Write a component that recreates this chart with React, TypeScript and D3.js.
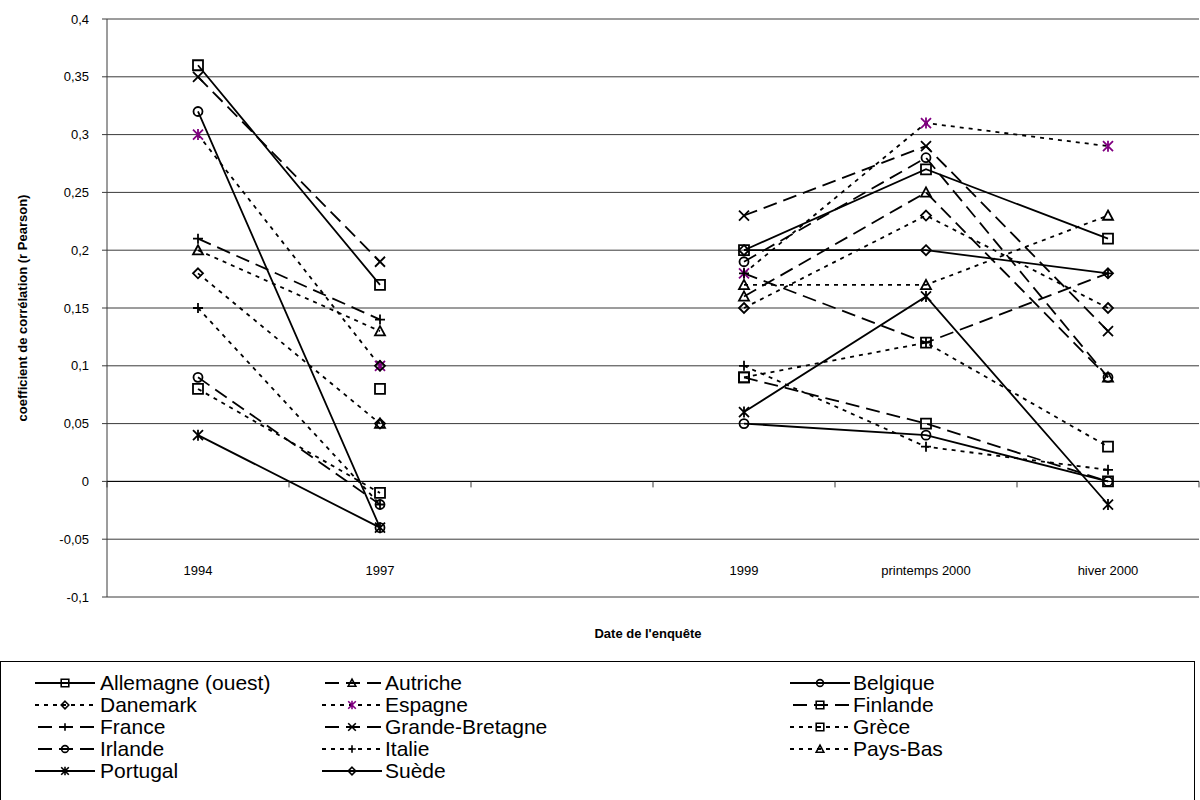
import React from "react";
import * as d3 from "d3";

const categories = ["1994", "1997", "", "1999", "printemps 2000", "hiver 2000"];

const countries = [
  "Allemagne (ouest)", "Autriche", "Belgique", "Danemark", "Espagne", "Finlande", "France",
  "Grande-Bretagne", "Grèce", "Irlande", "Italie", "Pays-Bas", "Portugal", "Suède",
];

const allemagne = [0.36, 0.17, null, 0.2, 0.27, 0.21];
const autriche = [null, 0.05, null, 0.16, 0.25, 0.09];
const belgique = [0.32, -0.04, null, 0.05, 0.04, 0.0];
const danemark = [0.18, 0.05, null, 0.15, 0.23, 0.15];
const espagne = [0.3, 0.1, null, 0.18, 0.31, 0.29];
const finlande = [null, 0.08, null, 0.09, 0.05, 0.0];
const france = [0.21, 0.14, null, 0.18, 0.12, 0.18];
const grandeBretagne = [0.35, 0.19, null, 0.23, 0.29, 0.13];
const grece = [0.08, -0.01, null, 0.09, 0.12, 0.03];
const irlande = [0.09, -0.02, null, 0.19, 0.28, 0.09];
const italie = [0.15, -0.02, null, 0.1, 0.03, 0.01];
const paysBas = [0.2, 0.13, null, 0.17, 0.17, 0.23];
const portugal = [0.04, -0.04, null, 0.06, 0.16, -0.02];
const suede = [null, 0.1, null, 0.2, 0.2, 0.18];

const seriesValues = [
  allemagne, autriche, belgique, danemark, espagne, finlande, france,
  grandeBretagne, grece, irlande, italie, paysBas, portugal, suede,
];

const lineStyles = [
  "solid", "dashed", "solid", "dotted", "dotted", "dashed", "dashed",
  "dashed", "dotted", "dashed", "dotted", "dotted", "solid", "solid",
];
const markerShapes = [
  "square", "triangle", "circle", "diamond", "star", "square", "plus",
  "x", "square", "circle", "plus", "triangle", "star", "diamond",
];
const seriesColors = [
  "#000", "#000", "#000", "#000", "#800080", "#000", "#000",
  "#000", "#000", "#000", "#000", "#000", "#000", "#000",
];

const yTicks = [-0.1, -0.05, 0, 0.05, 0.1, 0.15, 0.2, 0.25, 0.3, 0.35, 0.4];
const yTickLabels = ["-0,1", "-0,05", "0", "0,05", "0,1", "0,15", "0,2", "0,25", "0,3", "0,35", "0,4"];

const FONT = "'Liberation Sans', Arial, sans-serif";
const W = 1200;
const H = 800;
const plot = { left: 107, right: 1199, top: 19, bottom: 597 };

const dashFor = (s: string) => (s === "dashed" ? "14,7" : s === "dotted" ? "4,5" : undefined);

function markerPath(shape: string, h: number): string {
  switch (shape) {
    case "square":
      return `M${-h},${-h}H${h}V${h}H${-h}Z`;
    case "triangle":
      return `M0,${-h}L${h},${h * 0.85}L${-h},${h * 0.85}Z`;
    case "diamond":
      return `M0,${-h}L${h},0L0,${h}L${-h},0Z`;
    case "plus":
      return `M${-h},0H${h}M0,${-h}V${h}`;
    case "x":
      return `M${-h},${-h}L${h},${h}M${-h},${h}L${h},${-h}`;
    case "star":
      return `M${-h},${-h}L${h},${h}M${-h},${h}L${h},${-h}M0,${-h * 1.1}V${h * 1.1}`;
    default:
      return "";
  }
}

function Marker({ shape, x, y, h, color, sw }: any) {
  if (shape === "circle") {
    return <circle cx={x} cy={y} r={h * 0.9} fill="none" stroke={color} strokeWidth={sw} />;
  }
  return (
    <path
      d={markerPath(shape, h)}
      transform={`translate(${x},${y})`}
      fill="none"
      stroke={color}
      strokeWidth={sw}
      strokeLinejoin="miter"
    />
  );
}

export default function App() {
  const x = d3.scaleBand<string>().domain(categories).range([plot.left, plot.right]).padding(0);
  const cx = (c: string) => (x(c) as number) + x.bandwidth() / 2;
  const y = d3.scaleLinear().domain([-0.1, 0.4]).range([plot.bottom, plot.top]);

  const line = d3
    .line<number | null>()
    .defined((d) => d !== null)
    .x((_, i) => cx(categories[i]))
    .y((d) => y(d as number));

  const boundaries = categories.map((c) => x(c) as number).concat([plot.right]);

  const legendCols = [35, 322, 790];
  const legendTextX = [100, 385, 853];
  const legendRowY = 683;
  const legendRowH = 22;

  return (
    <svg
      width={W}
      height={H}
      style={{ position: "absolute", left: 0, top: 0, background: "#fff" }}
      fontFamily={FONT}
    >
      <rect x={0} y={0} width={W} height={H} fill="#fff" />
      {yTicks.map((t) => (
        <line key={t} x1={plot.left} x2={plot.right} y1={y(t)} y2={y(t)} stroke="#3a3a3a" strokeWidth={1} />
      ))}
      <line x1={plot.left} x2={plot.left} y1={plot.top} y2={plot.bottom} stroke="#3a3a3a" strokeWidth={1} />
      {yTicks.map((t) => (
        <line key={"yt" + t} x1={plot.left - 5} x2={plot.left} y1={y(t)} y2={y(t)} stroke="#3a3a3a" />
      ))}
      {yTicks.map((t, i) => (
        <text key={"yl" + t} x={89} y={y(t)} dy="0.35em" textAnchor="end" fontSize={13}>
          {yTickLabels[i]}
        </text>
      ))}
      <line x1={plot.left} x2={plot.right} y1={y(0)} y2={y(0)} stroke="#000" strokeWidth={1} />
      {boundaries.map((b, i) => (
        <line key={"xt" + i} x1={b} x2={b} y1={y(0)} y2={y(0) + 6} stroke="#3a3a3a" />
      ))}
      {categories.map((c, i) =>
        c ? (
          <text key={"xl" + i} x={cx(c)} y={575} textAnchor="middle" fontSize={13}>
            {c}
          </text>
        ) : null
      )}
      <text
        transform={`translate(27,${(plot.top + plot.bottom) / 2}) rotate(-90)`}
        textAnchor="middle"
        fontSize={13}
        fontWeight="bold"
      >
        coefficient de corrélation (r Pearson)
      </text>
      <text x={648} y={638} textAnchor="middle" fontSize={13} fontWeight="bold">
        Date de l'enquête
      </text>
      {seriesValues.map((vals, si) => (
        <path
          key={"l" + si}
          d={line(vals) || ""}
          fill="none"
          stroke="#000"
          strokeWidth={1.8}
          strokeDasharray={dashFor(lineStyles[si])}
        />
      ))}
      {seriesValues.map((vals, si) =>
        vals.map((v, i) =>
          v === null ? null : (
            <Marker
              key={"m" + si + "-" + i}
              shape={markerShapes[si]}
              x={cx(categories[i])}
              y={y(v)}
              h={5}
              color={seriesColors[si]}
              sw={1.8}
            />
          )
        )
      )}
      <rect x={0.5} y={661.5} width={1194} height={160} fill="#fff" stroke="#000" strokeWidth={1} />
      {countries.map((name, i) => {
        const col = i % 3;
        const row = Math.floor(i / 3);
        const ly = legendRowY + row * legendRowH;
        const x0 = legendCols[col];
        return (
          <g key={"lg" + i}>
            <line
              x1={x0}
              x2={x0 + 60}
              y1={ly}
              y2={ly}
              stroke="#000"
              strokeWidth={2}
              strokeDasharray={dashFor(lineStyles[i])}
              strokeDashoffset={lineStyles[i] === "dashed" ? -3 : 0}
            />
            <Marker shape={markerShapes[i]} x={x0 + 30} y={ly} h={3.8} color={seriesColors[i]} sw={1.6} />
            <text x={legendTextX[col]} y={ly} dy="0.35em" fontSize={21}>
              {name}
            </text>
          </g>
        );
      })}
    </svg>
  );
}
